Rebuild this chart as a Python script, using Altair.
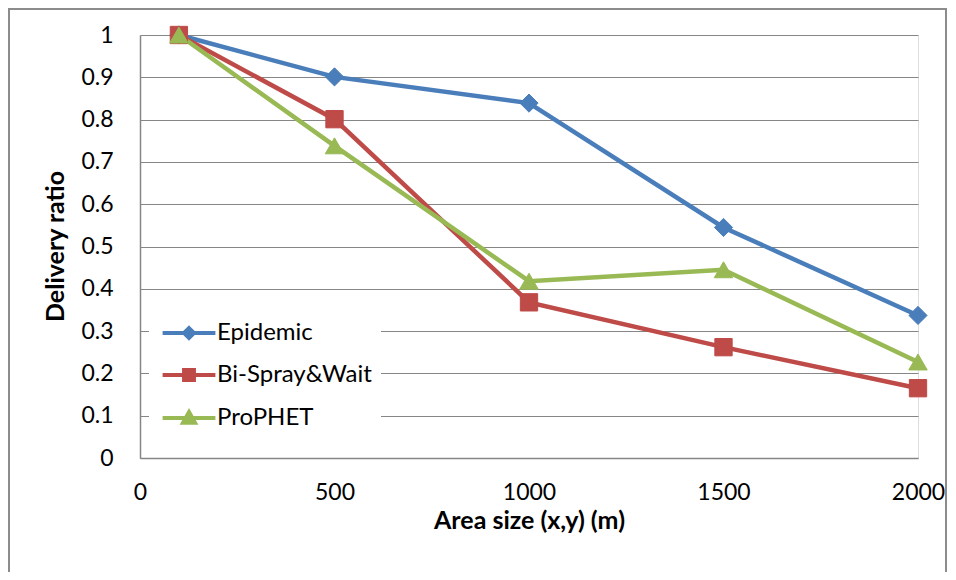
import altair as alt
import pandas as pd

# ---- data ----
area_sizes = [100, 500, 1000, 1500, 2000]
epidemic = [1.0, 0.901, 0.839, 0.545, 0.337]
bi_spray_wait = [1.0, 0.801, 0.368, 0.262, 0.165]
prophet = [1.0, 0.738, 0.418, 0.445, 0.227]

series_names = ["Epidemic", "Bi-Spray&Wait", "ProPHET"]
series_colors = ["#4A7EBB", "#BE4B48", "#98B954"]
marker_shapes = ["diamond", "square", "triangle-up"]
marker_sizes = [330, 300, 340]
legend_paths = [
    "M-3.3,0H3.3M0,-0.62L0.62,0L0,0.62L-0.62,0Z",
    "M-3.3,0H3.3M-0.62,-0.62H0.62V0.62H-0.62Z",
    "M-3.3,0H3.3M0,-0.75L0.75,0.6H-0.75Z",
]
y_ticks = [0, 0.1, 0.2, 0.3, 0.4, 0.5, 0.6, 0.7, 0.8, 0.9, 1]
x_ticks = [0, 500, 1000, 1500, 2000]

rows = []
for name, vals in zip(series_names, [epidemic, bi_spray_wait, prophet]):
    for xv, yv in zip(area_sizes, vals):
        rows.append({"area": xv, "ratio": yv, "series": name})
df = pd.DataFrame(rows)

FONT = "Lato"
GRAY = "#868686"

color_scale = alt.Scale(domain=series_names, range=series_colors)


def make_legend():
    return alt.Legend(
        title=None,
        orient="none",
        legendX=9,
        legendY=277,
        padding=9,
        fillColor="white",
        symbolSize=256,
        symbolStrokeWidth=4,
        symbolOpacity=1,
        symbolOffset=19,
        labelOffset=16,
        labelFontSize=24,
        labelFont=FONT,
        labelColor="#000000",
        rowPadding=16,
        labelLimit=400,
    )


x_enc = alt.X(
    "area:Q",
    scale=alt.Scale(domain=[0, 2000], nice=False),
    axis=alt.Axis(
        values=x_ticks,
        format="d",
        title="Area size (x,y) (m)",
        grid=False,
        ticks=False,
        domainColor=GRAY,
        domainWidth=1.5,
        labelPadding=23,
        labelFontSize=23,
        labelColor="#000000",
        titleFontSize=25,
        titleFontWeight="bold",
        titlePadding=4,
        titleColor="#000000",
        labelFlush=False,
    ),
)
y_enc = alt.Y(
    "ratio:Q",
    scale=alt.Scale(domain=[0, 1], nice=False),
    axis=alt.Axis(
        values=y_ticks,
        format=".1~f",
        title="Delivery ratio",
        grid=True,
        gridColor=GRAY,
        gridWidth=1.2,
        ticks=False,
        domainColor=GRAY,
        domainWidth=1.5,
        labelPadding=27,
        labelFontSize=23,
        labelColor="#000000",
        titleFontSize=25,
        titleFontWeight="bold",
        titleColor="#000000",
        titleX=-85,
        titleY=211,
        titleBaseline="middle",
        titleAlign="center",
        titleAngle=-90,
    ),
)

lines = alt.Chart(df).mark_line(strokeWidth=4.5).encode(
    x=x_enc,
    y=y_enc,
    stroke=alt.Stroke("series:N", scale=color_scale, legend=make_legend()),
    detail="series:N",
)

point_layers = []
for name, shp, sz in zip(series_names, marker_shapes, marker_sizes):
    point_layers.append(
        alt.Chart(df)
        .transform_filter(alt.datum.series == name)
        .mark_point(filled=True, shape=shp, size=sz, opacity=1, strokeWidth=1)
        .encode(
            x="area:Q",
            y="ratio:Q",
            fill=alt.Fill("series:N", scale=color_scale, legend=make_legend()),
            stroke=alt.Stroke("series:N", scale=color_scale, legend=make_legend()),
        )
    )

legend_layer = (
    alt.Chart(df)
    .mark_point(filled=True, opacity=0)
    .encode(
        x="area:Q",
        y="ratio:Q",
        shape=alt.Shape(
            "series:N",
            scale=alt.Scale(domain=series_names, range=legend_paths),
            legend=make_legend(),
        ),
        fill=alt.Fill("series:N", scale=color_scale, legend=make_legend()),
        stroke=alt.Stroke("series:N", scale=color_scale, legend=make_legend()),
    )
)

border = (
    alt.Chart(alt.Data(values=[{}]))
    .mark_rect(fill=None, stroke="#8C8C8C", strokeWidth=2)
    .encode(
        x=alt.value(-131),
        x2=alt.value(806),
        y=alt.value(-26),
        y2=alt.value(600),
    )
)

chart = (
    alt.layer(border, lines, *point_layers, legend_layer)
    .properties(
        width=778,
        height=423,
        padding={"left": 132, "top": 27, "right": 30, "bottom": 114},
        autosize=alt.AutoSizeParams(type="none"),
        background="white",
    )
    .configure_view(stroke=None)
    .configure(font=FONT)
    .configure_axis(labelFont=FONT, titleFont=FONT)
)

chart.save("out.html", embed_options={"renderer": "svg", "actions": False})
